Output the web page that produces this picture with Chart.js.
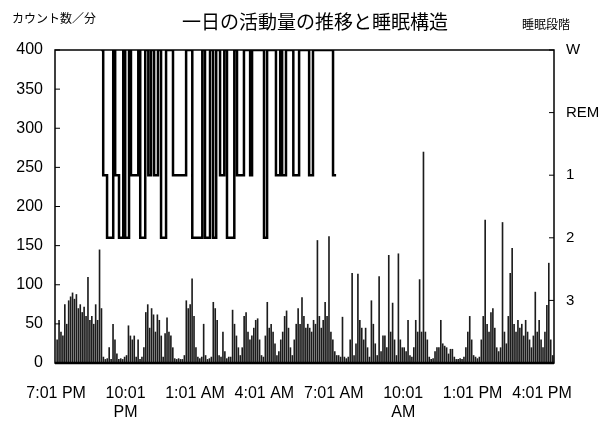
<!DOCTYPE html>
<html lang="ja">
<head>
  <meta charset="UTF-8">
  <title>一日の活動量の推移と睡眠構造</title>
  <script src="https://cdn.jsdelivr.net/npm/chart.js"></script>
  <style>
    html, body { margin: 0; padding: 0; background: #fff; }
    #wrap { width: 607px; height: 422px; }
  </style>
</head>
<body>
  <div id="wrap"><canvas id="activityChart"></canvas></div>

  <script>
    // x axis is minutes after 7:01 PM
    const xTickMinutes = [0, 180, 360, 540, 720, 900, 1080, 1260];
    const xTickLabels = ['7:01 PM', ['10:01', 'PM'], '1:01 AM', '4:01 AM', '7:01 AM', ['10:01', 'AM'], '1:01 PM', '4:01 PM'];

    // right axis: sleep stages
    const stageTicks = [400, 320, 240, 160, 80];
    const stageNames = ['W', 'REM', '1', '2', '3'];

    // activity counts per minute, one value per 5 minute bin
    const binMinutes = 5;
    const activityCounts = [
      30, 55, 40, 35, 75, 50, 80, 85, 90, 82,
      88, 70, 75, 65, 72, 60, 110, 55, 60, 50,
      75, 55, 145, 70, 8, 5, 6, 20, 5, 50,
      30, 12, 5, 6, 5, 8, 10, 48, 35, 30,
      35, 8, 30, 5, 8, 20, 65, 75, 45, 70,
      62, 40, 62, 55, 35, 8, 38, 58, 40, 35,
      20, 6, 5, 6, 5, 5, 10, 80, 70, 75,
      108, 60, 20, 8, 6, 8, 50, 10, 5, 6,
      8, 78, 70, 55, 10, 8, 40, 15, 6, 8,
      8, 68, 50, 35, 20, 10, 20, 60, 65, 40,
      30, 35, 45, 55, 57, 30, 10, 8, 35, 78,
      45, 50, 40, 25, 10, 15, 30, 40, 60, 67,
      45, 20, 10, 30, 50, 70, 50, 84, 60, 45,
      50, 45, 40, 55, 50, 157, 60, 45, 55, 78,
      60, 162, 40, 30, 15, 10, 10, 8, 59, 8,
      6, 8, 30, 115, 10, 25, 114, 55, 45, 30,
      45, 20, 8, 80, 50, 25, 10, 111, 15, 35,
      35, 20, 138, 40, 77, 30, 10, 140, 30, 20,
      20, 15, 55, 10, 8, 20, 55, 40, 107, 40,
      270, 40, 30, 8, 5, 6, 15, 20, 20, 55,
      25, 22, 20, 12, 18, 18, 8, 5, 5, 6,
      5, 8, 20, 40, 60, 30, 10, 8, 6, 8,
      30, 60, 183, 50, 40, 65, 70, 45, 20, 15,
      20, 180, 40, 25, 60, 115, 147, 50, 40, 55,
      45, 50, 35, 55, 40, 30, 20, 35, 91, 40,
      55, 30, 20, 40, 74, 128, 30, 10, 8
    ];

    // hypnogram: minute of each stage change and the new stage
    const sleepMinutes = [117, 122, 132, 148, 153, 163, 174, 179, 189, 194,
      213, 218, 231, 239, 246, 254, 264, 272, 285, 303,
      337, 353, 379, 386, 399, 407, 415, 425, 436, 443,
      462, 469, 487, 503, 508, 539, 547, 570, 581, 586,
      596, 615, 630, 656, 666, 718, 726];
    const sleepStages = ['W', '1', '2', 'W', '1', '2', 'W', '2', 'W', '1',
      'W', '2', 'W', '1', 'W', '1', 'W', '2', 'W', '1',
      'W', '2', 'W', '2', 'W', '2', 'W', '1', 'W', '2',
      'W', '1', 'W', '1', 'W', '2', 'W', '1', 'W', '1',
      'W', '1', 'W', '1', 'W', '1', '1'];

    const stageLevel = {};
    stageNames.forEach((name, i) => { stageLevel[name] = stageTicks[i]; });

    const tickFont = { family: "'Liberation Sans', Arial, sans-serif", size: 16 };

    // frame, inner tick marks and the three header texts
    const decorations = {
      id: 'decorations',
      afterDraw(chart) {
        const { ctx, chartArea: a, scales } = chart;
        ctx.save();
        ctx.strokeStyle = '#000';
        ctx.lineWidth = 1.5;
        ctx.strokeRect(a.left, a.top, a.right - a.left, a.bottom - a.top);

        ctx.lineWidth = 1;
        ctx.beginPath();
        for (let v = 0; v <= 400; v += 50) {
          const py = scales.y.getPixelForValue(v);
          ctx.moveTo(a.left, py);
          ctx.lineTo(a.left + 5, py);
        }
        stageTicks.forEach(v => {
          const py = scales.y2.getPixelForValue(v);
          ctx.moveTo(a.right, py);
          ctx.lineTo(a.right - 5, py);
        });
        ctx.stroke();

        // heavier x axis line
        ctx.lineWidth = 2.5;
        ctx.beginPath();
        ctx.moveTo(a.left, a.bottom);
        ctx.lineTo(a.right, a.bottom);
        ctx.stroke();

        ctx.fillStyle = '#000';
        ctx.textBaseline = 'middle';
        ctx.font = "19px 'Noto Sans CJK JP', sans-serif";
        ctx.textAlign = 'center';
        ctx.fillText('一日の活動量の推移と睡眠構造', 315, 22);
        ctx.font = "12px 'Noto Sans CJK JP', sans-serif";
        ctx.textAlign = 'left';
        ctx.fillText('カウント数／分', 12, 18);
        ctx.fillText('睡眠段階', 522, 24);
        ctx.restore();
      }
    };

    new Chart(document.getElementById('activityChart'), {
      type: 'bar',
      data: {
        datasets: [
          {
            type: 'line',
            label: '睡眠段階',
            data: sleepMinutes.map((t, i) => ({ x: t, y: stageLevel[sleepStages[i]] })),
            yAxisID: 'y2',
            stepped: true,
            borderColor: '#000',
            borderWidth: 2.5,
            pointRadius: 0,
            fill: false,
            order: 1
          },
          {
            type: 'bar',
            label: 'カウント数／分',
            data: activityCounts.map((v, i) => ({ x: i * binMinutes + binMinutes / 2, y: v })),
            yAxisID: 'y',
            backgroundColor: '#1c1c1c',
            barPercentage: 0.85,
            categoryPercentage: 1,
            order: 2
          }
        ]
      },
      options: {
        responsive: true,
        maintainAspectRatio: false,
        animation: false,
        layout: { padding: { top: 50, left: 0, right: 0, bottom: 0 } },
        plugins: {
          legend: { display: false },
          title: { display: false },
          tooltip: { enabled: false }
        },
        scales: {
          x: {
            type: 'linear',
            offset: false,
            min: -3,
            max: 1291,
            grid: { display: false },
            border: { display: false },
            afterBuildTicks: scale => { scale.ticks = xTickMinutes.map(v => ({ value: v })); },
            afterFit: scale => { scale.height = 59; },
            ticks: {
              callback: (value, index) => xTickLabels[index],
              autoSkip: false,
              maxRotation: 0,
              padding: 13,
              color: '#000',
              font: tickFont
            }
          },
          y: {
            position: 'left',
            min: 0,
            max: 400,
            grid: { display: false },
            border: { display: false },
            afterFit: scale => { scale.width = 55; },
            ticks: { stepSize: 50, padding: 4, color: '#000', font: tickFont }
          },
          y2: {
            position: 'right',
            min: 0,
            max: 400,
            grid: { display: false },
            border: { display: false },
            afterBuildTicks: scale => { scale.ticks = stageTicks.map(v => ({ value: v })); },
            afterFit: scale => { scale.width = 53; },
            ticks: {
              callback: (value, index) => stageNames[index],
              padding: 4,
              color: '#000',
              font: { family: "'Liberation Sans', Arial, sans-serif", size: 15 }
            }
          }
        }
      },
      plugins: [decorations]
    });
  </script>
</body>
</html>
